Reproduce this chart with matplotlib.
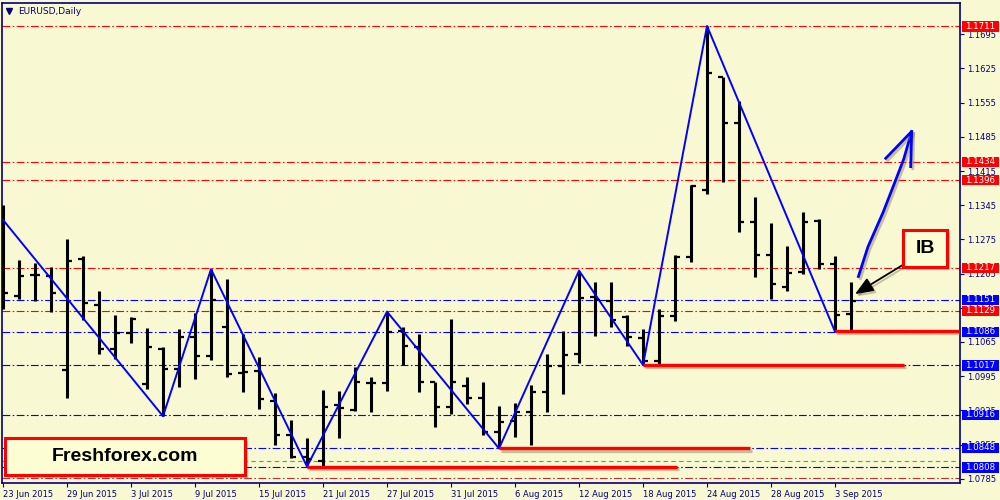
import numpy as np
import pandas as pd
import matplotlib
matplotlib.use('Agg')
import matplotlib.pyplot as plt
import matplotlib.patheffects as pe
import matplotlib.transforms as mtrans
from matplotlib.patches import Rectangle

# daily EURUSD bars, 23 Jun 2015 .. 4 Sep 2015
days = pd.bdate_range('2015-06-23', '2015-09-04')
opens = [1.1230, 1.1160, 1.1203, 1.1200, 1.1008, 1.1234, 1.1141, 1.1051, 1.1083, 1.0978,
         1.1051, 1.1010, 1.1075, 1.1036, 1.1096, 1.1002, 1.1006, 1.0944, 1.0874, 1.0830,
         1.0821, 1.0935, 1.0926, 1.0980, 1.0980, 1.1088, 1.1055, 1.0982, 1.0932, 1.0975,
         1.0950, 1.0881, 1.0904, 1.0922, 1.0963, 1.1016, 1.1040, 1.1158, 1.1148, 1.1117,
         1.1074, 1.1025, 1.1118, 1.1238, 1.1376, 1.1607, 1.1514, 1.1311, 1.1243, 1.1178,
         1.1209, 1.1313, 1.1224, 1.1122]
highs = [1.1346, 1.1233, 1.1227, 1.1219, 1.1276, 1.1241, 1.1170, 1.1120, 1.1116, 1.1094,
         1.1055, 1.1092, 1.1124, 1.1214, 1.1193, 1.1081, 1.1034, 1.0960, 1.0905, 1.0868,
         1.0967, 1.0965, 1.1014, 1.0993, 1.1127, 1.1096, 1.1081, 1.0984, 1.1111, 1.0993,
         1.0984, 1.0934, 1.0941, 1.0976, 1.1040, 1.1088, 1.1211, 1.1187, 1.1187, 1.1120,
         1.1091, 1.1132, 1.1243, 1.1387, 1.1712, 1.1608, 1.1559, 1.1361, 1.1308, 1.1262,
         1.1331, 1.1316, 1.1241, 1.1187]
lows = [1.1133, 1.1153, 1.1149, 1.1127, 1.0951, 1.1109, 1.1040, 1.1030, 1.1062, 1.0968,
        1.0913, 1.0972, 1.0989, 1.1028, 1.0993, 1.0963, 1.0927, 1.0853, 1.0828, 1.0810,
        1.0810, 1.0868, 1.0924, 1.0922, 1.0965, 1.1018, 1.0963, 1.0891, 1.0918, 1.0938,
        1.0875, 1.0847, 1.0871, 1.0853, 1.0922, 1.0958, 1.1021, 1.1077, 1.1096, 1.1057,
        1.1018, 1.1019, 1.1107, 1.1229, 1.1368, 1.1393, 1.1290, 1.1199, 1.1152, 1.1170,
        1.1204, 1.1214, 1.1086, 1.1090]
closes = [1.1165, 1.1200, 1.1203, 1.1166, 1.1231, 1.1145, 1.1051, 1.1083, 1.1112, 1.1054,
          1.1010, 1.1075, 1.1036, 1.1151, 1.0999, 1.1004, 1.0948, 1.0874, 1.0830, 1.0825,
          1.0932, 1.0929, 1.0982, 1.0980, 1.1085, 1.1057, 1.0984, 1.0931, 1.0982, 1.0950,
          1.0881, 1.0901, 1.0922, 1.0963, 1.1016, 1.1038, 1.1156, 1.1150, 1.1110, 1.1075,
          1.1025, 1.1118, 1.1238, 1.1384, 1.1615, 1.1514, 1.1311, 1.1243, 1.1184, 1.1207,
          1.1311, 1.1224, 1.1120, 1.1148]

# zigzag vertices (bar index, price)
zz_idx = [0, 10, 13, 19, 24, 31, 36, 40, 44, 52]
zz_val = [1.1315, 1.0913, 1.1214, 1.0810, 1.1127, 1.0847, 1.1211, 1.1018, 1.1712, 1.1086]

red_levels = [1.1711, 1.1434, 1.1396, 1.1217, 1.1129]
blue_levels = [1.1151, 1.1086, 1.1017, 1.0916, 1.0848, 1.0808]
green_level = 1.0822
bottom_level = 1.0787

# thick support segments: start bar, end bar, price
sup_start = [19, 31, 40, 52]
sup_end = [42.1, 46.7, 56.3, 60.0]
sup_val = [1.0809, 1.0847, 1.1018, 1.1087]

price_ticks = [1.0785 + 0.007 * k for k in range(14)]

# hand drawn forecast arrow and the pointer to the inside bar
fc_x = [53.46, 54.06, 55.0, 55.75, 56.3, 56.79]
fc_y = [1.1199, 1.1260, 1.1330, 1.1393, 1.1440, 1.1496]
barb_x = [55.17, 56.79, 56.73]
barb_y = [1.1441, 1.1496, 1.1424]
ib_tail = (56.25, 1.1223)
ib_head = (53.25, 1.1163)

bg = '#f8f8d2'
navy = '#000080'

fig = plt.figure(figsize=(10, 5), dpi=100, facecolor=bg)
ax = fig.add_axes([0.002, 0.0334, 0.958, 0.9612], facecolor=bg)
ax.set_xlim(-0.0625, 59.81)
ax.set_ylim(1.07756, 1.17596)

shadow = [pe.SimpleLineShadow(offset=(1.5, -1.5), shadow_color='#8a7a50', alpha=0.45), pe.Normal()]

# level lines
dashdot = (0, (7, 2.2, 1.4, 2.2))
for v in red_levels:
    ax.axhline(v, color='#ff0000', lw=0.8, ls=dashdot, zorder=1)
for v in blue_levels:
    ax.axhline(v, color='#0000ff', lw=0.8, ls=dashdot, zorder=1)
ax.axhline(green_level, color='#22cc22', lw=0.8, ls=(0, (4, 3)), zorder=1)
ax.axhline(bottom_level, color='#c03030', lw=0.8, ls=dashdot, zorder=1)

# bars
x = np.arange(len(opens))
ax.vlines(x, lows, highs, color='black', lw=2.2, zorder=3)
ax.hlines(opens, x - 0.32, x, color='black', lw=1.6, zorder=3)
ax.hlines(closes, x, x + 0.32, color='black', lw=1.6, zorder=3)

# zigzag
ax.plot(zz_idx, zz_val, color='#0000ff', lw=1.4, zorder=4)

# support segments
for s, e, v in zip(sup_start, sup_end, sup_val):
    ax.plot([s, e], [v, v], color='#ff0000', lw=2.4, zorder=4,
            solid_capstyle='butt', path_effects=shadow, clip_on=True)

# forecast arrow
ax.plot(fc_x, fc_y, color='#0000ff', lw=2.0, zorder=6, path_effects=shadow)
ax.plot(barb_x, barb_y, color='#0000ff', lw=2.0, zorder=6, path_effects=shadow)

# pointer
ax.annotate('', xy=ib_head, xytext=ib_tail, zorder=6,
            arrowprops=dict(arrowstyle='-|>,head_length=1.1,head_width=0.45', color='black', lw=1.3,
                            shrinkA=0, shrinkB=0,
                            path_effects=[pe.SimpleLineShadow(offset=(1.5, -1.5), shadow_color='#8a7a50', alpha=0.45), pe.Normal()]))

# axes styling
for side in ['left', 'top', 'right', 'bottom']:
    ax.spines[side].set_color(navy)
    ax.spines[side].set_linewidth(1.2)
ax.yaxis.tick_right()
ax.set_yticks(price_ticks)
ax.set_yticklabels(['%.4f' % t for t in price_ticks])
ax.tick_params(axis='y', direction='out', length=3, width=0.8, colors=navy, labelsize=6, pad=2)

tick_idx = list(range(0, len(days), 4))
ax.set_xticks(tick_idx)
ax.set_xticklabels([f'{days[i].day} {days[i]:%b %Y}' for i in tick_idx])
ax.tick_params(axis='x', direction='out', length=3, width=0.8, colors=navy, labelsize=6, pad=2)
for lab in ax.get_xticklabels():
    lab.set_ha('left')

# price tags on the scale
tr = mtrans.blended_transform_factory(ax.transAxes, ax.transData)
tag_h = 0.00212
for vals, col in [(red_levels, '#ff0000'), (blue_levels, '#0000ff')]:
    for v in vals:
        ax.add_patch(Rectangle((1.002, v - tag_h / 2), 0.0385, tag_h, transform=tr,
                               facecolor=col, edgecolor='none', clip_on=False, zorder=8))
        ax.text(1.0212, v, '%.4f' % v, transform=tr, ha='center', va='center',
                fontsize=6.2, color='white', zorder=9, clip_on=False)

# title
ax.plot([0.0078], [0.9827], marker='v', ms=4, color=navy, transform=ax.transAxes, clip_on=False)
ax.text(0.0167, 0.9827, 'EURUSD,Daily', transform=ax.transAxes, fontsize=6.5, color=navy, va='center')

# boxes
def label_box(x0, y0, w, h, text):
    sh = Rectangle((x0 + 0.003, y0 - 0.006), w, h, transform=fig.transFigure,
                   facecolor='#8a7a50', alpha=0.35, edgecolor='none', zorder=10)
    box = Rectangle((x0, y0), w, h, transform=fig.transFigure,
                    facecolor='#fdfdd4', edgecolor='#ff0000', lw=2.2, zorder=11)
    fig.add_artist(sh)
    fig.add_artist(box)
    fig.text(x0 + w / 2, y0 + h / 2, text, ha='center', va='center', fontsize=14,
             fontweight='bold', family='Liberation Sans', color='black', zorder=12)

label_box(0.005, 0.05, 0.24, 0.074, 'Freshforex.com')
label_box(0.903, 0.466, 0.044, 0.074, 'IB')

fig.savefig('out.png', dpi=100, facecolor=bg)
